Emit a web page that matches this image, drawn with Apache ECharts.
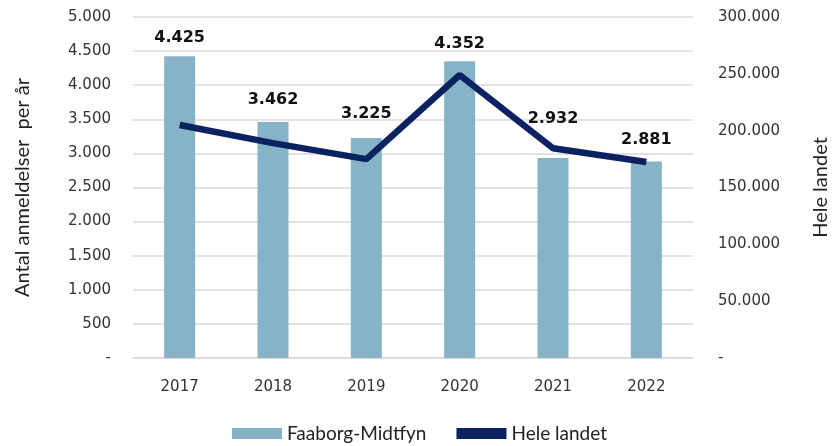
<!DOCTYPE html>
<html><head><meta charset="utf-8">
<script src="https://cdn.jsdelivr.net/npm/echarts@6/dist/echarts.min.js"></script>
<style>html,body{margin:0;padding:0;background:#fff}#c{width:839px;height:446px}</style>
</head><body><div id="c"></div>
<script>
const categories = ['2017','2018','2019','2020','2021','2022'];
const faaborg = [4425, 3462, 3225, 4352, 2932, 2881];
const heleLandet = [205000, 189000, 175000, 249000, 184500, 172500];
const labelGaps = [10, 14, 16, 9, 31, 14];
const fmt = v => v === 0 ? '-' : String(v).replace(/\B(?=(\d{3})+(?!\d))/g, '.');
const font = 'Lato';
const tickFont = 'DejaVu Sans';
const chart = echarts.init(document.getElementById('c'));
chart.setOption({
  animation: false,
  textStyle: { fontFamily: font },
  grid: { left: 133, right: 138, top: 17, bottom: 88 },
  legend: {
    bottom: -2, left: 'center', itemGap: 30, itemWidth: 50, itemHeight: 11,
    textStyle: { fontSize: 19, color: '#222', fontFamily: font },
    data: [{ name: 'Faaborg-Midtfyn', icon: 'rect' }, { name: 'Hele landet', icon: 'rect' }]
  },
  xAxis: {
    type: 'category', data: categories,
    axisLine: { show: true, lineStyle: { color: '#d9d9d9', width: 1.5 } },
    axisTick: { show: false },
    axisLabel: { color: '#333', fontSize: 15, margin: 22, fontFamily: tickFont }
  },
  yAxis: [{
    type: 'value', min: 0, max: 5000, interval: 500,
    name: 'Antal anmeldelser  per år', nameLocation: 'middle', nameGap: 100, nameRotate: 90,
    nameTextStyle: { fontSize: 20, color: '#222' },
    axisLabel: { formatter: fmt, color: '#333', fontSize: 15, margin: 22, fontFamily: tickFont },
    splitLine: { lineStyle: { color: '#d9d9d9', width: 1.5 } },
    axisLine: { show: false }, axisTick: { show: false }
  }, {
    type: 'value', min: 0, max: 300000, interval: 50000,
    name: 'Hele landet', nameLocation: 'middle', nameGap: 118, nameRotate: 90,
    nameTextStyle: { fontSize: 20, color: '#222' },
    axisLabel: { formatter: fmt, color: '#333', fontSize: 15, margin: 25, align: 'left', fontFamily: tickFont },
    splitLine: { show: false }, axisLine: { show: false }, axisTick: { show: false }
  }],
  series: [{
    name: 'Faaborg-Midtfyn', type: 'bar', barWidth: 31,
    data: faaborg.map((v, i) => ({ value: v, label: { distance: labelGaps[i] } })),
    itemStyle: { color: '#86b3c8' },
    label: { show: true, position: 'top', formatter: p => fmt(p.value),
      fontWeight: 'bold', fontSize: 16, color: '#111', fontFamily: tickFont }
  }, {
    name: 'Hele landet', type: 'line', yAxisIndex: 1, data: heleLandet,
    symbol: 'none', lineStyle: { color: '#0b2260', width: 6.5 }, itemStyle: { color: '#0b2260' }
  }]
});
</script></body></html>
